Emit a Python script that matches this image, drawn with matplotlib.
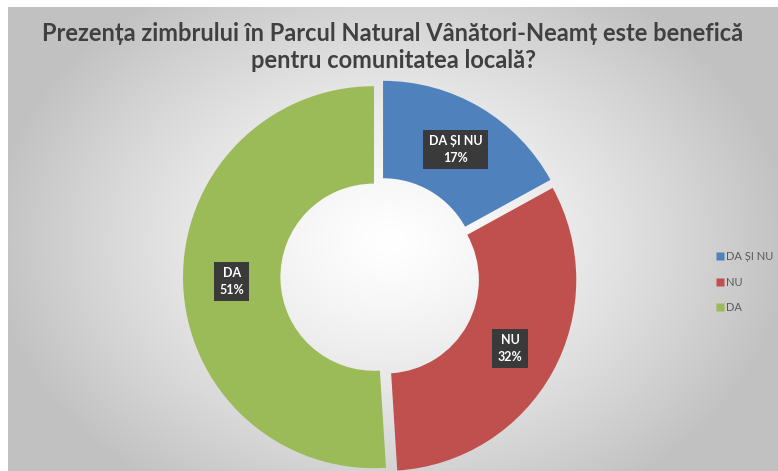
import matplotlib
matplotlib.use('Agg')
import matplotlib.pyplot as plt
import numpy as np

# date
categorii = ['DA ȘI NU', 'NU', 'DA']
procente = [17, 32, 51]
culori = ['#4F81BD', '#C0504D', '#9BBB59']
titlu = 'Prezența zimbrului în Parcul Natural Vânători-Neamț este benefică\npentru comunitatea locală?'

W, H = 778, 471
fig = plt.figure(figsize=(W / 100, H / 100), dpi=100)
fig.patch.set_facecolor('white')
ax = fig.add_axes([0, 0, 1, 1])

# fundal cu gradient radial (alb in centru, gri la margini)
x0, x1, y0, y1 = 8, W, 0, H - 7
xx, yy = np.meshgrid(np.linspace(x0, x1, 400), np.linspace(y0, y1, 250))
t = np.sqrt(((xx - 390) / 400) ** 2 + ((yy - 230) / 300) ** 2)
t = np.clip(t, 0, 1)
g = 1 - 0.24 * t ** 1.3
img = np.dstack([g, g, g])
ax.imshow(img, extent=(x0, x1, y0, y1), origin='lower', zorder=0, aspect='auto')

# inelul (explode in unitati de date = pixeli)
cx, cy, R = 380, H - 277, 191
wedges, _ = ax.pie(procente, colors=culori, startangle=90, counterclock=False,
                   explode=[6] * 3, radius=R, center=(cx, cy),
                   wedgeprops=dict(width=R * 0.51, linewidth=0), frame=True)
for w in wedges:
    w.set_zorder(2)

# etichete
unghi = 90
for cat, p in zip(categorii, procente):
    mij = np.deg2rad(unghi - p * 3.6 / 2)
    unghi -= p * 3.6
    r = R * 0.745 + 6
    tx = cx + r * np.cos(mij)
    ty = cy + r * np.sin(mij)
    ax.text(tx, ty, f'{cat}\n{p}%', ha='center', va='center', color='white',
            fontsize=9, fontweight='bold', family='Lato', linespacing=1.5,
            bbox=dict(boxstyle='square,pad=0.42', fc='#3a3a3a', ec='none'), zorder=5)

ax.set_xlim(0, W)
ax.set_ylim(0, H)
ax.set_aspect('equal')
ax.axis('off')

fig.text(393 / W, 1 - 47 / H, titlu, ha='center', va='center', fontsize=17,
         fontweight='bold', family='Lato', color='#404040', linespacing=1.2)

handles = [plt.Line2D([0], [0], marker='s', color='none', markerfacecolor=c,
                      markeredgecolor='none', markersize=6) for c in culori]
fig.legend(handles, categorii, loc='center left', bbox_to_anchor=(707 / W, 1 - 282 / H),
           frameon=False, labelcolor='#595959', handlelength=0.6,
           handletextpad=0.25, labelspacing=1.3, prop={'family': 'Lato', 'size': 8})

fig.savefig('out.png', dpi=100)
